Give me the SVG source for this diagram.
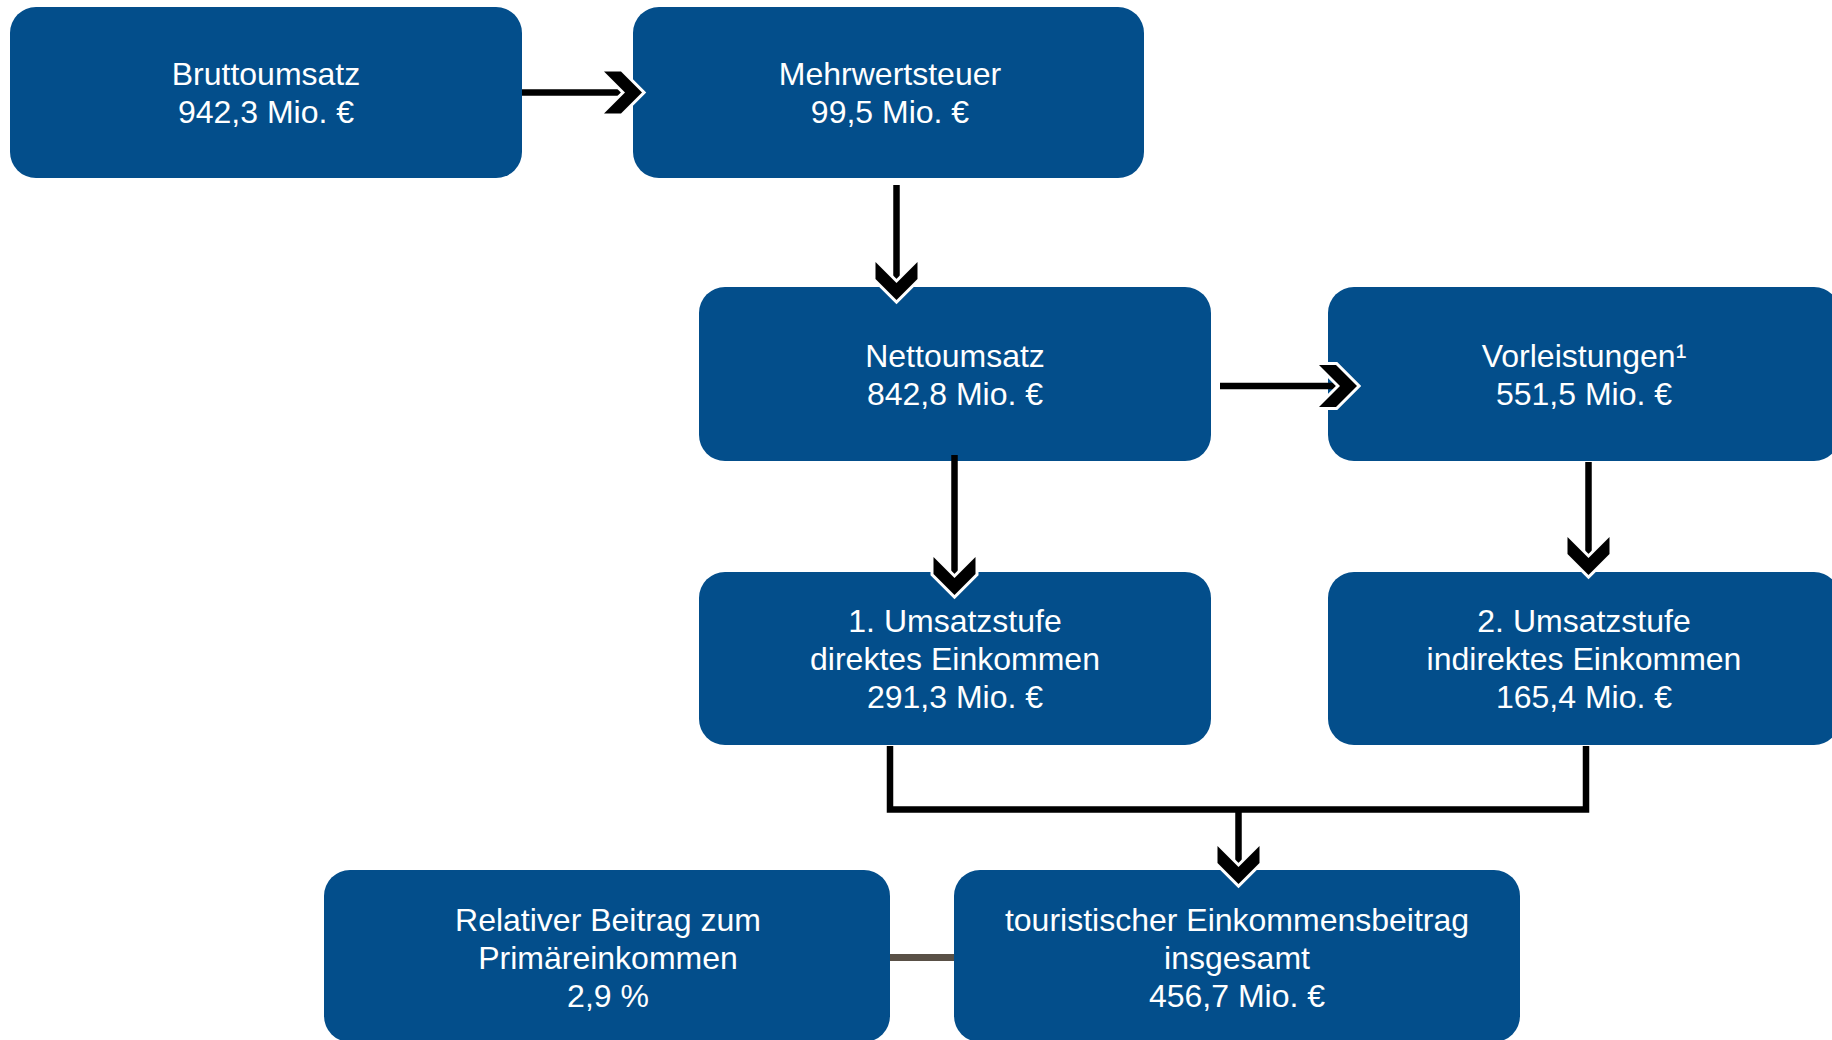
<svg xmlns="http://www.w3.org/2000/svg" xmlns:xlink="http://www.w3.org/1999/xlink" width="1832" height="1040" viewBox="0 0 1832 1040">
<defs>
<style>
.box{fill:#034e8b;}
.t{font-family:"Liberation Sans",Arial,Helvetica,sans-serif;font-size:32px;fill:#ffffff;text-anchor:middle;}
.ln{stroke:#000;stroke-width:6.5;fill:none;}
.chev{fill:#000;stroke:#fff;stroke-width:6;stroke-linejoin:miter;stroke-miterlimit:6;paint-order:stroke;}
</style>
<polygon id="chevD" points="-21,0 0,21 21,0 21,17 0,38 -21,17"/>
<polygon id="chevR" points="0,-21 21,0 0,21 17,21 38,0 17,-21"/>
</defs>
<rect width="1832" height="1040" fill="#ffffff"/>

<g id="node-bruttoumsatz">
<rect class="box" x="10" y="7" width="512" height="171" rx="26"/>
<text class="t" x="266" y="85">Bruttoumsatz</text>
<text class="t" x="266" y="123">942,3 Mio. €</text>
</g>
<g id="node-mehrwertsteuer">
<rect class="box" x="633" y="7" width="511" height="171" rx="26"/>
<text class="t" x="890" y="85">Mehrwertsteuer</text>
<text class="t" x="890" y="123">99,5 Mio. €</text>
</g>
<g id="node-nettoumsatz">
<rect class="box" x="699" y="287" width="512" height="174" rx="26"/>
<text class="t" x="955" y="367">Nettoumsatz</text>
<text class="t" x="955" y="405">842,8 Mio. €</text>
</g>
<g id="node-vorleistungen">
<rect class="box" x="1328" y="287" width="512" height="174" rx="26"/>
<text class="t" x="1584" y="367">Vorleistungen¹</text>
<text class="t" x="1584" y="405">551,5 Mio. €</text>
</g>
<g id="node-umsatzstufe1">
<rect class="box" x="699" y="572" width="512" height="173" rx="26"/>
<text class="t" x="955" y="632">1. Umsatzstufe</text>
<text class="t" x="955" y="670">direktes Einkommen</text>
<text class="t" x="955" y="708">291,3 Mio. €</text>
</g>
<g id="node-umsatzstufe2">
<rect class="box" x="1328" y="572" width="512" height="173" rx="26"/>
<text class="t" x="1584" y="632">2. Umsatzstufe</text>
<text class="t" x="1584" y="670">indirektes Einkommen</text>
<text class="t" x="1584" y="708">165,4 Mio. €</text>
</g>
<g id="node-relativ">
<rect class="box" x="324" y="870" width="566" height="172" rx="26"/>
<text class="t" x="608" y="931">Relativer Beitrag zum</text>
<text class="t" x="608" y="969">Primäreinkommen</text>
<text class="t" x="608" y="1007">2,9 %</text>
</g>
<g id="node-gesamt">
<rect class="box" x="954" y="870" width="566" height="172" rx="26"/>
<text class="t" x="1237" y="931">touristischer Einkommensbeitrag</text>
<text class="t" x="1237" y="969">insgesamt</text>
<text class="t" x="1237" y="1007">456,7 Mio. €</text>
</g>

<g id="connectors">
<line class="ln" x1="522" y1="92.5" x2="622" y2="92.5"/>
<use xlink:href="#chevR" class="chev" transform="translate(604,92.5)"/>
<line class="ln" x1="896.5" y1="185" x2="896.5" y2="280"/>
<use xlink:href="#chevD" class="chev" transform="translate(896.5,262)"/>
<line class="ln" x1="1220" y1="386" x2="1337" y2="386"/>
<use xlink:href="#chevR" class="chev" transform="translate(1319,386)"/>
<line class="ln" x1="954.5" y1="455" x2="954.5" y2="575"/>
<use xlink:href="#chevD" class="chev" transform="translate(954.5,557)"/>
<line class="ln" x1="1588.5" y1="462" x2="1588.5" y2="555"/>
<use xlink:href="#chevD" class="chev" transform="translate(1588.5,537)"/>
<polyline class="ln" points="890,746 890,809.5 1586,809.5 1586,746"/>
<line class="ln" x1="1238.5" y1="809.5" x2="1238.5" y2="864"/>
<use xlink:href="#chevD" class="chev" transform="translate(1238.5,846)"/>
<line x1="890" y1="957.5" x2="954" y2="957.5" stroke="#595046" stroke-width="7"/>
</g>
</svg>
